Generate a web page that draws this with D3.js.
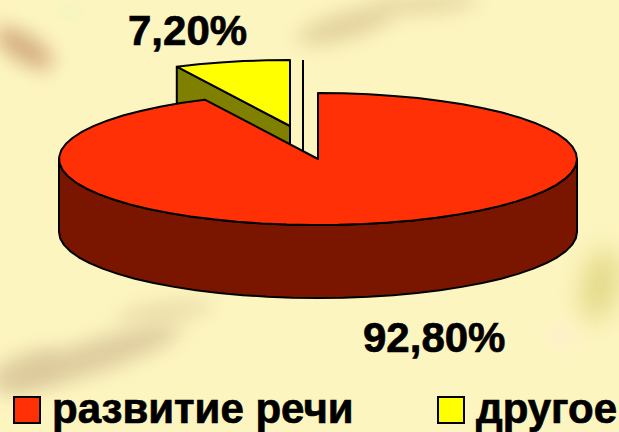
<!DOCTYPE html>
<html>
<head>
<meta charset="utf-8">
<script src="https://cdn.jsdelivr.net/npm/d3@7"></script>
<style>
  html, body { margin: 0; padding: 0; background: #fdf5c0; overflow: hidden; }
  text { font-family: "Liberation Sans", Arial, sans-serif; font-weight: bold; fill: #000; stroke: #000; stroke-width: 0.7px; }
</style>
</head>
<body>
<svg id="chart" width="619" height="432"></svg>
<script>
var categories = ['развитие речи', 'другое'];
var shares = [92.8, 7.2];
var shareLabels = ['92,80%', '7,20%'];

var
  width = 619,
  height = 432,
  depth = 73,
  explode = {x: -28, y: -33},
  topColors = ['#ff3006', '#ffff00'],
  wallColors = ['#7a1600', '#808000'],
  xScale = d3.scaleLinear().domain([-1, 1]).range([59, 577]),
  yScale = d3.scaleLinear().domain([-1, 1]).range([93, 225]),
  line = d3.line().curve(d3.curveLinear),
  pie = d3.pie().sort(null).startAngle(0).endAngle(2 * Math.PI)
  ;

var svg = d3.select('#chart');
var defs = svg.append('defs');
[6, 10, 14].forEach(b => {
  defs.append('filter')
    .attr('id', 'blur' + b)
    .attr('x', '-80%').attr('y', '-150%').attr('width', '260%').attr('height', '400%')
    .append('feGaussianBlur').attr('stdDeviation', b);
});

svg.append('rect').attr('width', width).attr('height', height).attr('fill', '#fdf5c0');

// blotches of the slide background
var paper = svg.append('g');
function blotch(cx, cy, rx, ry, rot, color, op, blur) {
  paper.append('ellipse')
    .attr('cx', cx).attr('cy', cy).attr('rx', rx).attr('ry', ry)
    .attr('transform', `rotate(${rot},${cx},${cy})`)
    .attr('fill', color).attr('opacity', op)
    .attr('filter', `url(#blur${blur})`);
}
blotch(24, 48, 34, 13, 32, '#c08a60', 0.7, 10);
blotch(70, 12, 16, 8, 0, '#eef5c0', 0.5, 6);
blotch(345, 26, 50, 13, -16, '#d8c490', 0.75, 10);
blotch(425, 4, 55, 8, -4, '#d8c490', 0.75, 10);
blotch(600, 285, 16, 38, 12, '#d8cc70', 0.8, 14);
blotch(562, 335, 14, 12, 0, '#fdeed0', 0.8, 10);
blotch(90, 358, 95, 16, -18, '#d8c498', 0.85, 10);
blotch(165, 312, 50, 10, -8, '#e2d2a0', 0.7, 10);
blotch(25, 370, 40, 16, -20, '#d8c498', 0.7, 10);

// a pie angle on the tilted disc, angle 0 at the top going clockwise
function rim(a, dx, dy) {
  return [xScale(Math.sin(a)) + dx, yScale(-Math.cos(a)) + dy];
}

function arcPoints(a0, a1, dx, dy) {
  var n = Math.max(2, Math.ceil((a1 - a0) / 0.1)), pts = [];
  for (var i = 0; i <= n; i++) pts.push(rim(a0 + (a1 - a0) * i / n, dx, dy));
  return pts;
}

function drawPoly(pts, fill) {
  return svg.append('path')
    .attr('d', line(pts) + 'Z')
    .attr('fill', fill)
    .attr('stroke', '#000')
    .attr('stroke-width', 2)
    .attr('stroke-linejoin', 'round');
}

var
  slices = pie(shares),
  red = slices[0],
  yellow = slices[1],
  center = [xScale(0), yScale(0)];

// exploded slice goes first, the big one covers its lower part
var yStart = rim(yellow.startAngle, explode.x, explode.y),
  yApex = [center[0] + explode.x, center[1] + explode.y];
drawPoly([yStart, yApex, [yApex[0], yApex[1] + depth], [yStart[0], yStart[1] + depth]], wallColors[1]);
drawPoly([yApex].concat(arcPoints(yellow.startAngle, yellow.endAngle, explode.x, explode.y)), topColors[1]);

// thin vertical line in the gap
svg.append('line')
  .attr('x1', center[0] - 15).attr('x2', center[0] - 15)
  .attr('y1', yScale(-1) + explode.y).attr('y2', center[1] - 8)
  .attr('stroke', '#000').attr('stroke-width', 2);

var wallTop = arcPoints(Math.PI / 2, 3 * Math.PI / 2, 0, 0),
  wallBottom = arcPoints(Math.PI / 2, 3 * Math.PI / 2, 0, depth).reverse();
drawPoly(wallTop.concat(wallBottom), wallColors[0]);
drawPoly([center].concat(arcPoints(red.startAngle, red.endAngle, 0, 0)), topColors[0]);

// value labels
var labelPos = [[363, 352], [128, 45]];
svg.selectAll('.value')
  .data(shareLabels)
  .enter()
  .append('text')
  .attr('class', 'value')
  .attr('x', (d, i) => labelPos[i][0])
  .attr('y', (d, i) => labelPos[i][1])
  .attr('font-size', 42)
  .text(d => d);

// legend
var legendX = [14, 438], legendY = 397, swatch = 26;
var items = svg.selectAll('.legend')
  .data(categories)
  .enter()
  .append('g')
  .attr('class', 'legend')
  .attr('transform', (d, i) => `translate(${legendX[i]},${legendY})`);
items.append('rect')
  .attr('width', swatch).attr('height', swatch)
  .attr('fill', (d, i) => topColors[i])
  .attr('stroke', '#000').attr('stroke-width', 2);
items.append('text')
  .attr('x', swatch + 12).attr('y', 26)
  .attr('font-size', 42)
  .text(d => d);
</script>
</body>
</html>
